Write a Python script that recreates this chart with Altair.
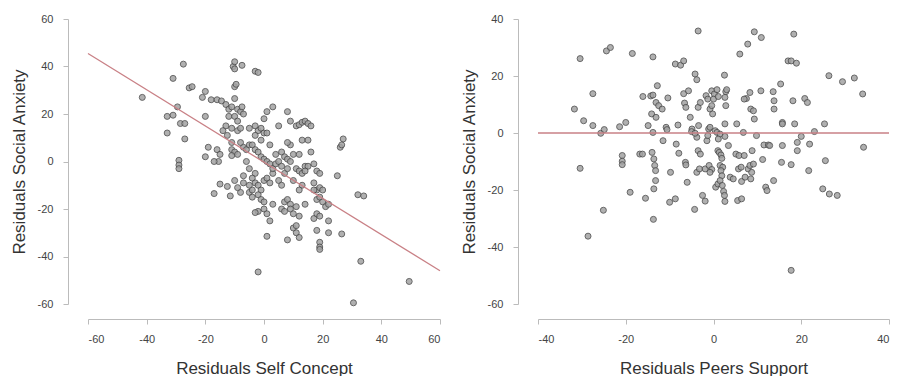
import altair as alt
import pandas as pd

# ---- Left panel: Residuals Self Concept vs Residuals Social Anxiety ----
sc_x = [-41.5, -27.5, -31, -25.5, -24.5, -29.5, -33, -31, -28.5, -27, -33, -27, -29, -29, -29,
        -20, -21, -18, -16, -14.5, -13, -12, -11, -10, -10, -9.5, -10.5, -10, -10, -7.5, -3, -2,
        -20, -19, -20, -16, -15, -15.5, -17, -17, -15, -12.5, -11.5, -12, -13, -14, -12.5, -11,
        -10, -9, -8, -7.5, -7, -9, -9, -8, -11, -11, -10, -11, -9, -7, -6, -5, -8, -6, -5, -7, -7,
        -5, -8, -9, -10,
        -5, -3, -2, -1, 0, 1, -3, -1, 0, 1, 3, 5, -4, -3, -2, -1, 0, 1, 2, -3, -4, -3, -2, -1, -4,
        -2, 0, 1, 2, 3, 3, 4, 5, 4, 2, -2, -3, 0, 1, 2, 1, -2, -1, 0, 3, -5, -4,
        6, 7, 8, 6, 7, 8, 9, 5, 6, 9, 8, 8, 9, 11, 12, 13, 14, 15, 16, 10, 11, 12, 13, 14, 15, 14,
        13, 15, 12, 16, 17, 18, 19, 17, 18, 19, 20, 18, 19, 17, 7, 8, 9, 6, 7, 9, 10, 12, 11, 14,
        10, 11, 12, 11, 8, 17, 18, 19, 18, 19, 19, 19, 13, 12, 10,
        20, 21, 22, 22, 22, 25, 26, 26.5, 27, 26.5, 32, 34, 33, 30.5, 49.5]
sc_y = [27, 41, 35, 31, 31.5, 23, 19, 19.5, 16, 16, 12, 9.5, 0.5, -1.5, -3,
        29.5, 27, 26, 26, 25.5, 24, 22, 23, 26.5, 31.5, 32.5, 40, 42, 39, 40.5, 38, 37.5,
        19, 6, 2, 5, 3, 0, 0, -13.5, -9.5, -10.5, -14.5, 19, 15, 13, 11, 14,
        19, 22, 21, 23, 20, 17, 13, 14, 8, 5, 4, 2.5, 3, 6, 5, 7, 8, 0, -3, -6, -9,
        -13, -13, -11, -8,
        14, 15, 13, 14, 12, 12, 11, 9, 18, 21, 23, 15, 7, 5, 4, 2, 1, 0, -1, -5, -7, -9, -10, -12, -12,
        -14, -8, -7, -9, -5, -3, -1, 0, 3, 7, -21, -21.5, -20, -22, -25, -31.5, -46.5, -16, -17, -18, -10, -15,
        4, 2, 1, -2, -5, -3, 0, -8, -10, 7, 8, 21, 17, 15, 15.5, 16.5, 17, 16, 15, 3, -3, -4, -5, -2, -2, -4,
        9, 9, 3, 4, -1, -4, -5, -9, -12, -11, -12, -16, -15, -12, -17, -16, -18, -20, -21, -20, -22, -23, -19, -18,
        -28, -30, -32, -27, -33, -24, -22, -23, -29, -34, -36, -37, -10, -12, -8,
        -17, -19, -18, -25, -30, -6, 6, 7, 9.5, -30.5, -14, -14.5, -42, -59.5, -50.5]

# fitted line
sc_line_x = [-60, 60]
sc_line_y = [45.5, -46]

# ---- Right panel: Residuals Peers Support vs Residuals Social Anxiety ----
ps_x = [-31.7, -30.4, -29.6, -30.4, -28.6, -27.5, -27.5, -25.7, -24.9, -25.1, -24.4, -23.5,
        -21.4, -20.8, -20.8, -20.8, -20, -19, -18.5, -16.8, -16.2, -16.1, -15.5, -14.9, -13.8,
        -14.3, -13.8, -14.1, -14, -13.8, -13.6, -13.4, -13.2, -13.2, -13.6, -13.7, -12.8, -13.1,
        -12.5, -13.1, -11.7, -11.5, -10.8, -10.6, -10.4, -9.8, -10, -8.7, -8.7, -7.5, -6.8, -8.5,
        -7.9, -8.1, -6.8, -6.6, -6.3, -6.4, -6.3, -6, -5.7, -5.3, -4.9, -5, -4.3, -4.2, -3.8, -3.5,
        -3.5, -3, -3.8, -4.2, -3.8, -3.2, -3.5, -3, -3.4, -2.5, -1.9, -1.9, -1.7, -1.3, -1.5, -1.3,
        -1.1, -0.8, -0.8, -0.4, -0.2, -0.4, 0.2, 0, -1, -0.4, -0.8, 0.4, 0.8, 1.1, 0.8, 1.5, 1.1,
        1, 0.5, 1, 1.3, 1.7, 1.9, 1.5, 2.1, 1.7, 1.9, 1.5, 2, 2.3, 2.5, 2.6, 2.5, 2.8, 3, 2.6, 2.8,
        2.6, 2.6, 3.4, 3.8, 4.5, 5.3, 5.1, 5.8, 5.7, 6.3, 5.5, 6.4, 6, 6.8, 7, 6.4, 7.2, 7.5, 7,
        7.8, 7.9, 8.3, 8.7, 8.5, 8.3, 8.5, 9.1, 8.8, 9.1, 9.3, 9.3, 9.8, 10.9, 10.8, 11.2, 11.5,
        12.5, 11.9, 12.2, 12.8, 13.6, 13.8, 13.8, 13.7, 15.3, 15.7, 15.7, 15.7, 15.5, 17, 17.7,
        18.9, 17.7, 18.1, 18.3, 18.5, 17.7, 19.1, 19.1, 20, 20.8, 21.4, 21.7, 21.9, 23, 25.3,
        25.5, 24.9, 26.4, 28.2, 26.3, 29.4, 32.1, 34, 34.2]
ps_y = [8.4, 26.1, 4.3, -12.4, -36.2, 13.8, 2.6, -0.1, 1.2, -27.1, 28.8, 30,
        2.2, -7.9, -9.9, -11.1, 3.7, -20.8, 27.9, -7.4, -7.4, 12.8, -22.9, 2.6, 26.7,
        13, 13.3, 6.7, -6.8, 0.2, -9.1, -11.4, -13.2, -16.7, -19.6, -30.3, 16.6, 10.7,
        9.6, 5.5, 8.4, -2.7, 2, 1.2, 12.3, -13.8, -24.3, -23.1, 24.2, 23.8, 25.3, -3.9,
        -7.1, 2.8, 13.8, 10.5, 9, -10.3, -11.2, -17.3, 14.8, 5.5, 1.4, 0.5, -26.8, 20.7, 18.7, 35.8,
        9, 10.7, -1.5, -0.1, -13.8, -12.6, -6.2, -7.4, 2.6, -21.9, -23.9, -12.6, 13.1, 11.9, -2.7, -0.9,
        1.4, 2, 8.4, 9.6, 6.7, 14.8, 13.7, 11.9, -11.4, -12.8, -13.8, 0.8, 15.2, 12.8, 0.2, -0.4, -2.1,
        -6.2, -19, -17.9, -6.8, -7.7, -8.9, -11.4, -12, -13.2, -15, -16.7, -18.4, -20.5, -21.9, -24, 20.3, 14.5, 15.2, 12.5, 9.6,
        3.2, -1.2, -4.4, -15.5, -16.1, 3.2, -7.4, -7.9, -12.6, -12, -23.7, -23.1, 27.7, 0.2, -7.9, -17, -15.5, 12.1, 11.9,
        31.2, -12.6, -11.4, -13.8, -16.1, 14.2, 8.4, 7.8, -6.2, -10.9, 4.9, 35.5, -0.9, 33.5, 14.8, -9.3, -4.2,
        -4.2, -19, -20.2, -4.4, 14.5, 11.3, 8.4, -16.7, 17.2, 3.7, 3.2, -4.4, -10.3, 25.3, 25.3,
        24.5, -11.1, 11.3, 34.7, 3.2, -48.2, -3.3, -6.2, -1.2, 12.1, 10.7, -13.2, -3.9, 0.5, 3.2,
        -9.7, -19.6, -21.4, -21.9, 20.1, 18, 19.3, 13.7, -5]

ps_line_x = [-40, 40]
ps_line_y = [0, 0]

n = min(len(sc_x), len(sc_y))
df_sc = pd.DataFrame({"x": sc_x[:n], "y": sc_y[:n]})
m = min(len(ps_x), len(ps_y))
df_ps = pd.DataFrame({"x": ps_x[:m], "y": ps_y[:m]})
df_sc_line = pd.DataFrame({"x": sc_line_x, "y": sc_line_y})
df_ps_line = pd.DataFrame({"x": ps_line_x, "y": ps_line_y})

FONT = "Liberation Sans"
H = 285

def axis(values, title, offset, lpad, tpad):
    return alt.Axis(values=values, title=title, offset=offset, grid=False,
                    labelExpr="datum.value + ''",
                    domainColor="#bbbbbb", tickColor="#bbbbbb", tickSize=5,
                    labelFont=FONT, labelFontSize=11, labelColor="#444444",
                    titleFont=FONT, titleFontSize=17, titleFontWeight="normal",
                    titleColor="#333333", titlePadding=tpad, labelPadding=lpad)

def panel(df, dfl, xdom, ydom, xvals, yvals, xtitle, w):
    xs = alt.Scale(domain=xdom, nice=False, zero=False)
    ys = alt.Scale(domain=ydom, nice=False, zero=False)
    pts = alt.Chart(df).mark_circle(size=36, fill="#a3a3a3", stroke="#4d4d4d",
                                    strokeWidth=1, opacity=0.85).encode(
        x=alt.X("x:Q", scale=xs, axis=axis(xvals, xtitle, 15, 9, 16)),
        y=alt.Y("y:Q", scale=ys, axis=axis(yvals, "Residuals Social Anxiety", 20, 10, 9)),
    )
    line = alt.Chart(dfl).mark_line(color="#c98186", strokeWidth=1.3).encode(
        x=alt.X("x:Q", scale=xs), y=alt.Y("y:Q", scale=ys))
    return alt.layer(pts, line).properties(width=w, height=H)

left = panel(df_sc, df_sc_line, [-60, 60], [-60, 60],
             [-60, -40, -20, 0, 20, 40, 60], [-60, -40, -20, 0, 20, 40, 60],
             "Residuals Self Concept", 352)
right = panel(df_ps, df_ps_line, [-40, 40], [-60, 40],
              [-40, -20, 0, 20, 40], [-60, -40, -20, 0, 20, 40],
              "Residuals Peers Support", 351)

chart = alt.hconcat(left, right, spacing=17).resolve_scale(x="independent", y="independent") \
    .configure_view(stroke=None).properties(padding={"left": 2, "top": 5, "right": 0, "bottom": 0})

chart.save("out.html", embed_options={"renderer": "svg", "actions": False})
